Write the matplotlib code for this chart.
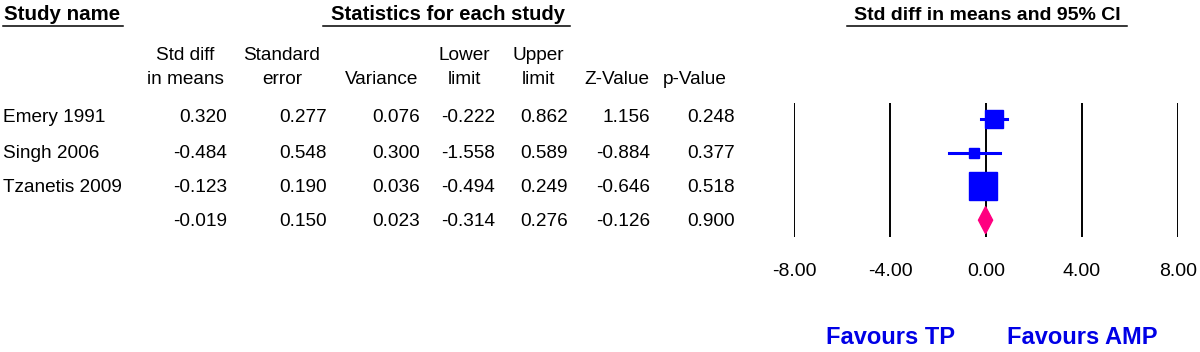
import matplotlib
matplotlib.use("Agg")
import matplotlib.pyplot as plt
import numpy as np

plt.rcParams['font.family'] = ['Liberation Sans', 'DejaVu Sans']

studies = ['Emery 1991', 'Singh 2006', 'Tzanetis 2009', '']
smd = [0.320, -0.484, -0.123, -0.019]
se = [0.277, 0.548, 0.190, 0.150]
var = [0.076, 0.300, 0.036, 0.023]
lower = [-0.222, -1.558, -0.494, -0.314]
upper = [0.862, 0.589, 0.249, 0.276]
zval = [1.156, -0.884, -0.646, -0.126]
pval = [0.248, 0.377, 0.518, 0.900]
xticks = [-8, -4, 0, 4, 8]

col_heads = [('Std diff', 'in means'), ('Standard', 'error'), ('', 'Variance'),
             ('Lower', 'limit'), ('Upper', 'limit'), ('', 'Z-Value'), ('', 'p-Value')]
cols = [smd, se, var, lower, upper, zval, pval]

W, H = 1200, 352
fig = plt.figure(figsize=(12, 3.52), dpi=100)

# background axes in pixel coordinates for the table text
bg = fig.add_axes([0, 0, 1, 1])
bg.set_xlim(0, W)
bg.set_ylim(H, 0)
bg.axis('off')

fs = 13.7
blue = '#0000ff'

# section headers (bold, underlined)
bg.text(4, 19.5, 'Study name', fontsize=14.8, fontweight='bold', va='baseline', ha='left')
bg.plot([3, 123], [25.5, 25.5], color='black', lw=1.1)
bg.text(448, 20, 'Statistics for each study', fontsize=14.6, fontweight='bold', va='baseline', ha='center')
bg.plot([323, 570], [26, 26], color='black', lw=1.1)
bg.text(987, 20, 'Std diff in means and 95% CI', fontsize=14, fontweight='bold', va='baseline', ha='center')
bg.plot([847, 1127], [26, 26], color='black', lw=1.1)

# column headers and values
col_right = [227, 327, 420, 495, 568, 650, 735]
col_center = [185, 282, 382, 464, 538, 617, 695]
row_y = [118, 153, 187, 222]
for (h1, h2), xc in zip(col_heads, col_center):
    bg.text(xc, 55, h1, fontsize=fs, ha='center', va='center')
    bg.text(xc, 80, h2, fontsize=fs, ha='center', va='center')
for vals, xr in zip(cols, col_right):
    for v, y in zip(vals, row_y):
        bg.text(xr, y, f'{v:.3f}', fontsize=fs, ha='right', va='center')
for name, y in zip(studies, row_y):
    bg.text(3, y, name, fontsize=fs, ha='left', va='center')

# forest plot axes
x0, x1 = 794, 1178
y_top, y_bot = 103, 237
fa = fig.add_axes([x0 / W, (H - y_bot) / H, (x1 - x0) / W, (y_bot - y_top) / H])
fa.set_xlim(-8, 8)
fa.set_ylim(3.5, -0.475)
fa.axis('off')
for t in xticks:
    fa.axvline(t, color='black', lw=1.4, zorder=1)

weights = 1 / np.array(var[:3])
sides = 19.5 * np.sqrt(weights / weights.max())
y_pos = np.arange(4)
for i in range(3):
    fa.plot([lower[i], upper[i]], [y_pos[i], y_pos[i]], color=blue, lw=2.2, zorder=2)
    fa.plot(smd[i], y_pos[i], marker='s', ms=sides[i], color=blue, mec=blue, zorder=3)

# summary diamond
dh = 0.4
fa.fill([lower[3], smd[3], upper[3], smd[3]],
        [y_pos[3], y_pos[3] - dh, y_pos[3], y_pos[3] + dh],
        color='#ff0080', zorder=3)

# tick labels
tick_px = [x0 + (t + 8) / 16 * (x1 - x0) for t in xticks]
for t, xp in zip(xticks, tick_px):
    bg.text(xp, 271, f'{t:.2f}', fontsize=14, ha='center', va='center')

bg.text(tick_px[1], 337, 'Favours TP', fontsize=17, fontweight='bold', color='#0000e6',
        ha='center', va='center')
bg.text(tick_px[3], 337, 'Favours AMP', fontsize=17, fontweight='bold', color='#0000e6',
        ha='center', va='center')

fig.savefig('out.png', dpi=100)
